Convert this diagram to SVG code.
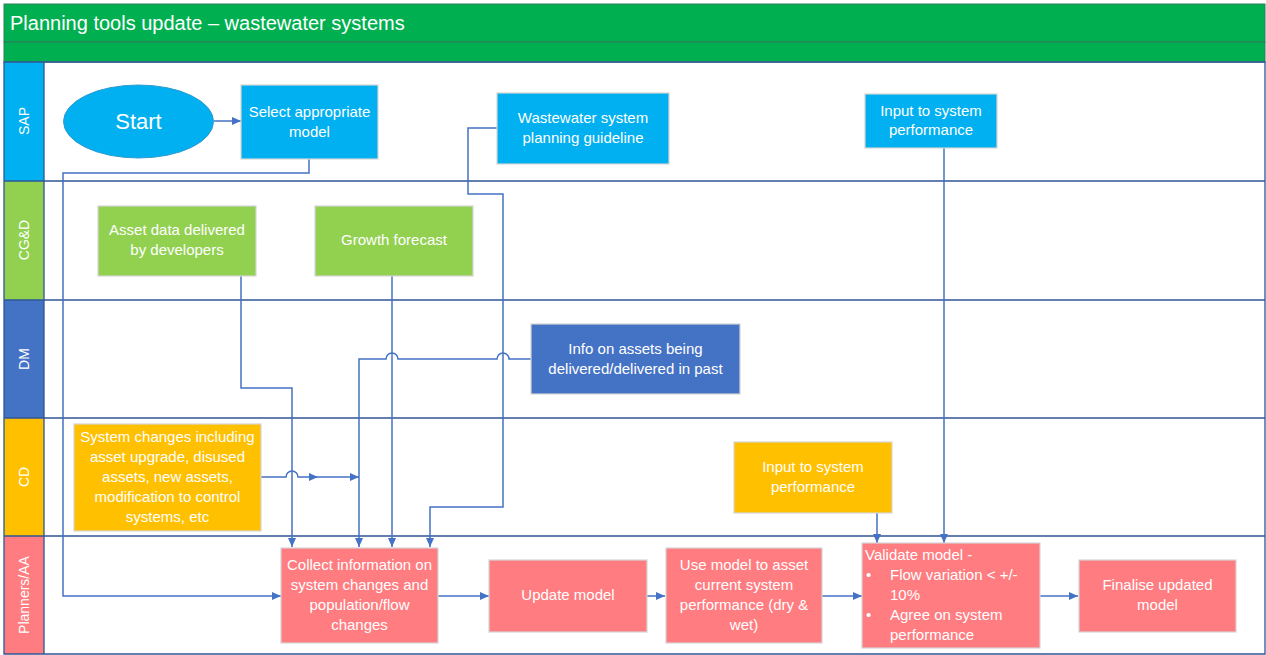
<svg xmlns="http://www.w3.org/2000/svg" width="1266" height="655" viewBox="0 0 1266 655">
<defs>
<marker id="ah" markerWidth="10" markerHeight="10" refX="9" refY="5" orient="auto" markerUnits="userSpaceOnUse">
<path d="M0,1 L9,5 L0,9 Z" fill="#4472C4"/>
</marker>
<style>
text{font-family:"Liberation Sans",Arial,sans-serif;fill:#fff;font-size:15px;text-anchor:middle}
.lane{stroke:#2F5597;stroke-width:1.3;fill:none}
.c{stroke:#4472C4;stroke-width:1.5;fill:none}
.a{marker-end:url(#ah)}
.nb{stroke:#d5d5d5;stroke-width:1.2}
.sap{fill:#00B0F0}.cgd{fill:#92D050}.dm{fill:#4472C4}.cd{fill:#FFC000}.pl{fill:#FF7C80}
.ll{font-size:14px}
</style>
</defs>
<rect width="1266" height="655" fill="#fff"/>
<g id="title">
<rect x="4" y="4" width="1261" height="38" fill="#00B050" stroke="#2E7D5B" stroke-width="1"/>
<rect x="4" y="42" width="1261" height="20" fill="#00B050" stroke="#2E7D5B" stroke-width="1"/>
<text x="10" y="30" style="text-anchor:start;font-size:20px">Planning tools update – wastewater systems</text>
</g>
<g id="lanes">
<rect x="4" y="62" width="40" height="119" class="sap"/>
<rect x="4" y="181" width="40" height="119" class="cgd"/>
<rect x="4" y="300" width="40" height="118" class="dm"/>
<rect x="4" y="418" width="40" height="118" class="cd"/>
<rect x="4" y="536" width="40" height="118" class="pl"/>
<path class="lane" d="M4,62 H1265 V654 H4 Z M44,62 V654 M4,181 H1265 M4,300 H1265 M4,418 H1265 M4,536 H1265"/>
<text class="ll" transform="translate(29,121) rotate(-90)">SAP</text>
<text class="ll" transform="translate(29,240) rotate(-90)">CG&amp;D</text>
<text class="ll" transform="translate(29,359) rotate(-90)">DM</text>
<text class="ll" transform="translate(29,477) rotate(-90)">CD</text>
<text class="ll" transform="translate(29,595) rotate(-90)">Planners/AA</text>
</g>
<g id="connectors">
<path class="c a" d="M214,121 H241"/>
<path class="c a" d="M309,159 V173 H63 V596 H281"/>
<path class="c a" d="M497,128 H468 V194 H503 V507 H430 V547"/>
<path class="c a" d="M944,148 V543"/>
<path class="c a" d="M241,276 V388 H292 V547"/>
<path class="c a" d="M392,276 V547"/>
<path class="c a" d="M531,359 H509 A6,6 0 0 0 497,359 H398 A6,6 0 0 0 386,359 H359 V547"/>
<path class="c a" d="M261,477 H286 A6,6 0 0 1 298,477 H318"/>
<path class="c a" d="M318,477 H359"/>
<path class="c a" d="M877,513 V543"/>
<path class="c a" d="M438,596 H489"/>
<path class="c a" d="M647,596 H665"/>
<path class="c a" d="M822,596 H862"/>
<path class="c a" d="M1040,596 H1078"/>
</g>
<g id="start">
<ellipse cx="138.5" cy="121.5" rx="75" ry="36.5" class="sap" stroke="#2E9BD0" stroke-width="1"/>
<text x="138.5" y="129" style="font-size:22px">Start</text>
</g>
<g id="select-model">
<rect x="241" y="85" width="137" height="74" class="sap nb"/>
<text x="309.5" y="117">Select appropriate</text>
<text x="309.5" y="137">model</text>
</g>
<g id="guideline">
<rect x="497" y="93" width="172" height="71" class="sap nb"/>
<text x="583" y="123">Wastewater system</text>
<text x="583" y="143">planning guideline</text>
</g>
<g id="input-sap">
<rect x="865" y="94" width="132" height="54" class="sap nb"/>
<text x="931" y="116">Input to system</text>
<text x="931" y="135">performance</text>
</g>
<g id="asset-data">
<rect x="98" y="206" width="158" height="70" class="cgd nb"/>
<text x="177" y="235">Asset data delivered</text>
<text x="177" y="255">by developers</text>
</g>
<g id="growth">
<rect x="315" y="206" width="158" height="70" class="cgd nb"/>
<text x="394" y="245">Growth forecast</text>
</g>
<g id="info-assets">
<rect x="531" y="324" width="209" height="70" class="dm nb"/>
<text x="635.5" y="354">Info on assets being</text>
<text x="635.5" y="374">delivered/delivered in past</text>
</g>
<g id="system-changes">
<rect x="74" y="424" width="187" height="107" class="cd nb"/>
<text x="167.5" y="442">System changes including</text>
<text x="167.5" y="462">asset upgrade, disused</text>
<text x="167.5" y="482">assets, new assets,</text>
<text x="167.5" y="502">modification to control</text>
<text x="167.5" y="522">systems, etc</text>
</g>
<g id="input-cd">
<rect x="734" y="442" width="158" height="71" class="cd nb"/>
<text x="813" y="472">Input to system</text>
<text x="813" y="492">performance</text>
</g>
<g id="collect">
<rect x="281" y="548" width="157" height="95" class="pl nb"/>
<text x="359.5" y="570">Collect information on</text>
<text x="359.5" y="590">system changes and</text>
<text x="359.5" y="610">population/flow</text>
<text x="359.5" y="630">changes</text>
</g>
<g id="update">
<rect x="489" y="560" width="158" height="72" class="pl nb"/>
<text x="568" y="600">Update model</text>
</g>
<g id="use-model">
<rect x="666" y="548" width="156" height="95" class="pl nb"/>
<text x="744" y="570">Use model to asset</text>
<text x="744" y="590">current system</text>
<text x="744" y="610">performance (dry &amp;</text>
<text x="744" y="630">wet)</text>
</g>
<g id="validate">
<rect x="862" y="543" width="178" height="105" class="pl nb"/>
<text x="865" y="560" style="text-anchor:start">Validate model -</text>
<text x="866" y="580" style="text-anchor:start">•</text>
<text x="890" y="580" style="text-anchor:start">Flow variation &lt; +/-</text>
<text x="890" y="600" style="text-anchor:start">10%</text>
<text x="866" y="620" style="text-anchor:start">•</text>
<text x="890" y="620" style="text-anchor:start">Agree on system</text>
<text x="890" y="640" style="text-anchor:start">performance</text>
</g>
<g id="finalise">
<rect x="1079" y="560" width="157" height="72" class="pl nb"/>
<text x="1157.5" y="590">Finalise updated</text>
<text x="1157.5" y="610">model</text>
</g>
</svg>
